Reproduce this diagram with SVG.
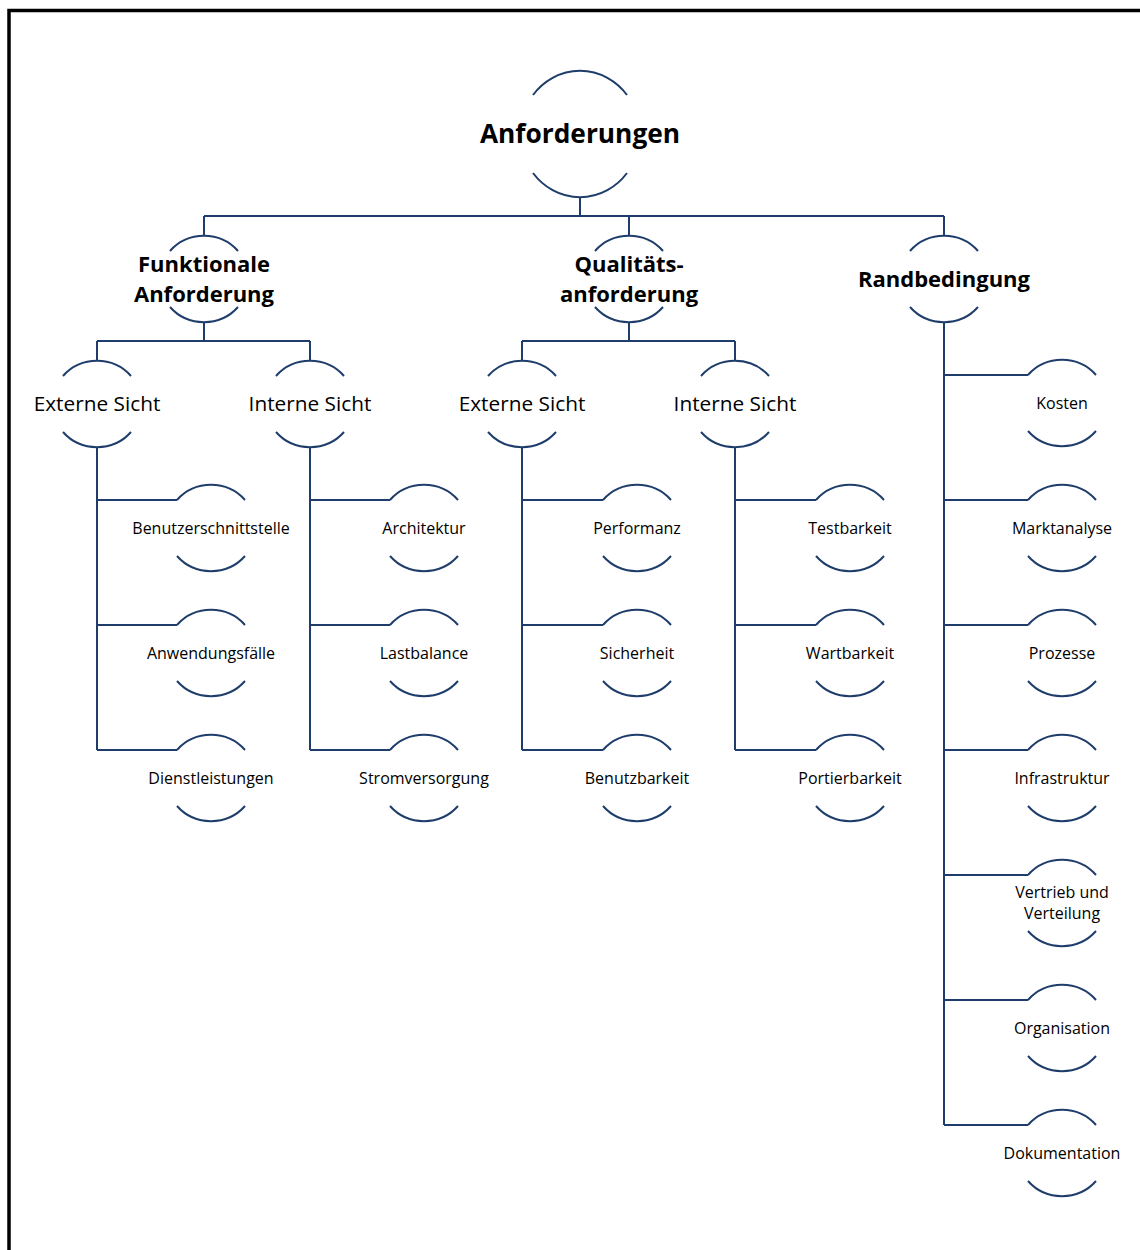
<svg xmlns="http://www.w3.org/2000/svg" width="1140" height="1250" viewBox="0 0 1140 1250">
  <style>
    .arc { fill: none; stroke: #1f3d6b; stroke-width: 2; }
    .wire { fill: none; stroke: #1f3d6b; stroke-width: 2; }
    .t0 { font-family: "Open Sans", "Noto Sans", sans-serif; font-weight: 700; font-size: 26.3px; fill: #000; text-anchor: middle; }
    .t1 { font-family: "Open Sans", "Noto Sans", sans-serif; font-weight: 700; font-size: 22px; fill: #000; text-anchor: middle; }
    .t2 { font-family: "Open Sans", "Noto Sans", sans-serif; font-size: 20.8px; fill: #000; text-anchor: middle; }
    .t3 { font-family: "Open Sans", "Noto Sans", sans-serif; font-size: 16px; fill: #000; text-anchor: middle; }
  </style>
  <defs>
    <!-- open circle outline: upper and lower arcs only -->
    <g id="ring">
      <path class="arc" d="M-34 -28 A45 44 0 0 1 34 -28"/>
      <path class="arc" d="M-34 28 A45 44 0 0 0 34 28"/>
    </g>
  </defs>

  <rect width="1140" height="1250" fill="#fff"/>
  <!-- page frame -->
  <rect x="9" y="10.5" width="1300" height="1400" fill="none" stroke="#000" stroke-width="3.5"/>

  <g id="connectors">
    <path class="wire" d="M580 198 V216 M204 216 H944 M204 216 V235 M629 216 V235 M944 216 V235"/>
    <path class="wire" d="M204 323 V341 M97 341 H310 M97 341 V360 M310 341 V360"/>
    <path class="wire" d="M629 323 V341 M522 341 H735 M522 341 V360 M735 341 V360"/>
    <path class="wire" d="M97 448 V750 M97 500 H177 M97 625 H177 M97 750 H177"/>
    <path class="wire" d="M310 448 V750 M310 500 H390 M310 625 H390 M310 750 H390"/>
    <path class="wire" d="M522 448 V750 M522 500 H603 M522 625 H603 M522 750 H603"/>
    <path class="wire" d="M735 448 V750 M735 500 H816 M735 625 H816 M735 750 H816"/>
    <path class="wire" d="M944 323 V1125 M944 375 H1028 M944 500 H1028 M944 625 H1028 M944 750 H1028 M944 875 H1028 M944 1000 H1028 M944 1125 H1028"/>
  </g>

  <g id="anforderungen">
    <path class="arc" d="M533 95 A60 64 0 0 1 627 95"/>
    <path class="arc" d="M533 173 A60 64 0 0 0 627 173"/>
    <text class="t0" x="580" y="143">Anforderungen</text>
  </g>

  <g id="funktionale-anforderung">
    <use href="#ring" x="204" y="279"/>
    <text class="t1" x="204" y="272">Funktionale</text>
    <text class="t1" x="204" y="302">Anforderung</text>
  </g>
  <g id="qualitaetsanforderung">
    <use href="#ring" x="629" y="279"/>
    <text class="t1" x="629" y="272">Qualitäts-</text>
    <text class="t1" x="629" y="302">anforderung</text>
  </g>
  <g id="randbedingung">
    <use href="#ring" x="944" y="279"/>
    <text class="t1" x="944" y="287">Randbedingung</text>
  </g>

  <g id="fa-externe-sicht">
    <use href="#ring" x="97" y="404"/>
    <text class="t2" x="97" y="411">Externe Sicht</text>
  </g>
  <g id="fa-interne-sicht">
    <use href="#ring" x="310" y="404"/>
    <text class="t2" x="310" y="411">Interne Sicht</text>
  </g>
  <g id="qa-externe-sicht">
    <use href="#ring" x="522" y="404"/>
    <text class="t2" x="522" y="411">Externe Sicht</text>
  </g>
  <g id="qa-interne-sicht">
    <use href="#ring" x="735" y="404"/>
    <text class="t2" x="735" y="411">Interne Sicht</text>
  </g>

  <g id="benutzerschnittstelle">
    <use href="#ring" x="211" y="528"/>
    <text class="t3" x="211" y="534">Benutzerschnittstelle</text>
  </g>
  <g id="anwendungsfaelle">
    <use href="#ring" x="211" y="653"/>
    <text class="t3" x="211" y="659">Anwendungsfälle</text>
  </g>
  <g id="dienstleistungen">
    <use href="#ring" x="211" y="778"/>
    <text class="t3" x="211" y="784">Dienstleistungen</text>
  </g>

  <g id="architektur">
    <use href="#ring" x="424" y="528"/>
    <text class="t3" x="424" y="534">Architektur</text>
  </g>
  <g id="lastbalance">
    <use href="#ring" x="424" y="653"/>
    <text class="t3" x="424" y="659">Lastbalance</text>
  </g>
  <g id="stromversorgung">
    <use href="#ring" x="424" y="778"/>
    <text class="t3" x="424" y="784">Stromversorgung</text>
  </g>

  <g id="performanz">
    <use href="#ring" x="637" y="528"/>
    <text class="t3" x="637" y="534">Performanz</text>
  </g>
  <g id="sicherheit">
    <use href="#ring" x="637" y="653"/>
    <text class="t3" x="637" y="659">Sicherheit</text>
  </g>
  <g id="benutzbarkeit">
    <use href="#ring" x="637" y="778"/>
    <text class="t3" x="637" y="784">Benutzbarkeit</text>
  </g>

  <g id="testbarkeit">
    <use href="#ring" x="850" y="528"/>
    <text class="t3" x="850" y="534">Testbarkeit</text>
  </g>
  <g id="wartbarkeit">
    <use href="#ring" x="850" y="653"/>
    <text class="t3" x="850" y="659">Wartbarkeit</text>
  </g>
  <g id="portierbarkeit">
    <use href="#ring" x="850" y="778"/>
    <text class="t3" x="850" y="784">Portierbarkeit</text>
  </g>

  <g id="kosten">
    <use href="#ring" x="1062" y="403"/>
    <text class="t3" x="1062" y="409">Kosten</text>
  </g>
  <g id="marktanalyse">
    <use href="#ring" x="1062" y="528"/>
    <text class="t3" x="1062" y="534">Marktanalyse</text>
  </g>
  <g id="prozesse">
    <use href="#ring" x="1062" y="653"/>
    <text class="t3" x="1062" y="659">Prozesse</text>
  </g>
  <g id="infrastruktur">
    <use href="#ring" x="1062" y="778"/>
    <text class="t3" x="1062" y="784">Infrastruktur</text>
  </g>
  <g id="vertrieb-und-verteilung">
    <use href="#ring" x="1062" y="903"/>
    <text class="t3" x="1062" y="898">Vertrieb und</text>
    <text class="t3" x="1062" y="919">Verteilung</text>
  </g>
  <g id="organisation">
    <use href="#ring" x="1062" y="1028"/>
    <text class="t3" x="1062" y="1034">Organisation</text>
  </g>
  <g id="dokumentation">
    <use href="#ring" x="1062" y="1153"/>
    <text class="t3" x="1062" y="1159">Dokumentation</text>
  </g>
</svg>
